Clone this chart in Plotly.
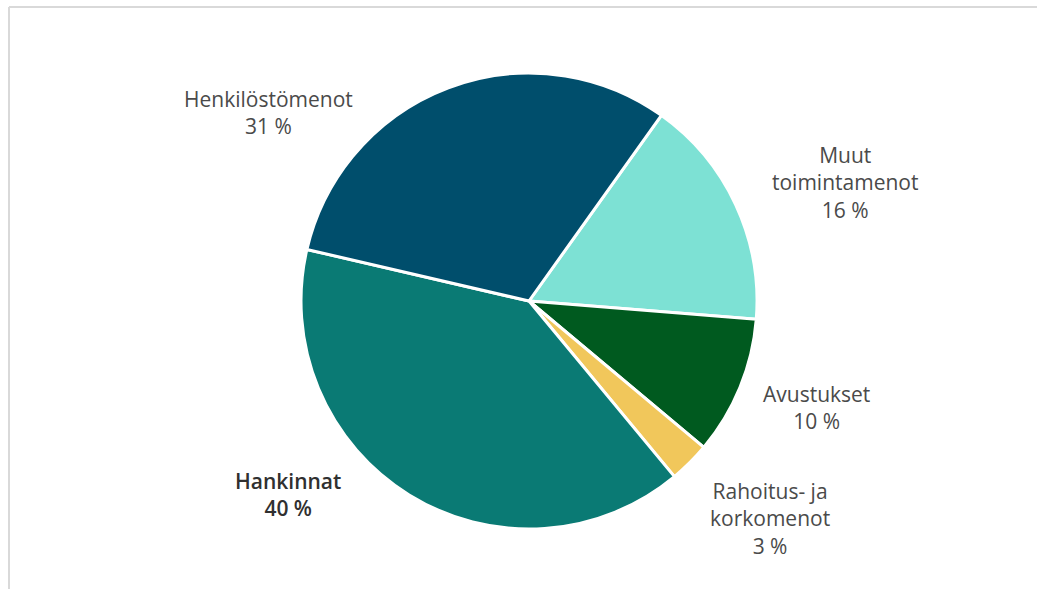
import plotly.graph_objects as go

W, H = 1037, 589

categories = ["Muut<br>toimintamenot", "Avustukset", "Rahoitus- ja<br>korkomenot", "Hankinnat", "Henkilöstömenot"]
values = [16.4, 9.8, 2.9, 39.6, 31.2]
colors = ["#7DE1D4", "#005A1F", "#F1C75B", "#0A7A74", "#004E6C"]

# label block centres in pixels (layout only)
label_px = [(845, 183), (816, 407), (770, 518), (288, 494), (268, 112)]
label_bold = [False, False, False, True, False]

CX, CY, R = 529, 301, 228

fig = go.Figure(go.Pie(
    labels=categories,
    values=values,
    sort=False,
    direction="clockwise",
    rotation=35.5,
    marker=dict(colors=colors, line=dict(color="white", width=3)),
    textinfo="none",
    hoverinfo="label+percent",
    domain=dict(x=[(CX - R) / W, (CX + R) / W], y=[(H - CY - R) / H, (H - CY + R) / H]),
    showlegend=False,
))

total = sum(values)
for cat, v, (px, py), b in zip(categories, values, label_px, label_bold):
    fig.add_annotation(
        x=px / W, y=1 - py / H, xref="paper", yref="paper",
        text=f"{cat}<br>{round(100 * v / total)} %",
        showarrow=False, align="center", xanchor="center", yanchor="middle",
        font=dict(family="Open Sans, Liberation Sans, Arial, sans-serif", size=21,
                  color="#303030" if b else "#4A4A4A", weight=600 if b else 400),
    )

# frame
fig.add_shape(type="line", xref="paper", yref="paper", x0=9 / W, x1=1, y0=1 - 7 / H, y1=1 - 7 / H,
              line=dict(color="#D9D9D9", width=2))
fig.add_shape(type="line", xref="paper", yref="paper", x0=9 / W, x1=9 / W, y0=0, y1=1 - 7 / H,
              line=dict(color="#D9D9D9", width=2))

fig.update_layout(
    width=W, height=H,
    margin=dict(l=0, r=0, t=0, b=0),
    paper_bgcolor="white", plot_bgcolor="white",
)

fig.write_html("out.html", config={"displayModeBar": False},
               post_script="document.body.style.margin='0';")
